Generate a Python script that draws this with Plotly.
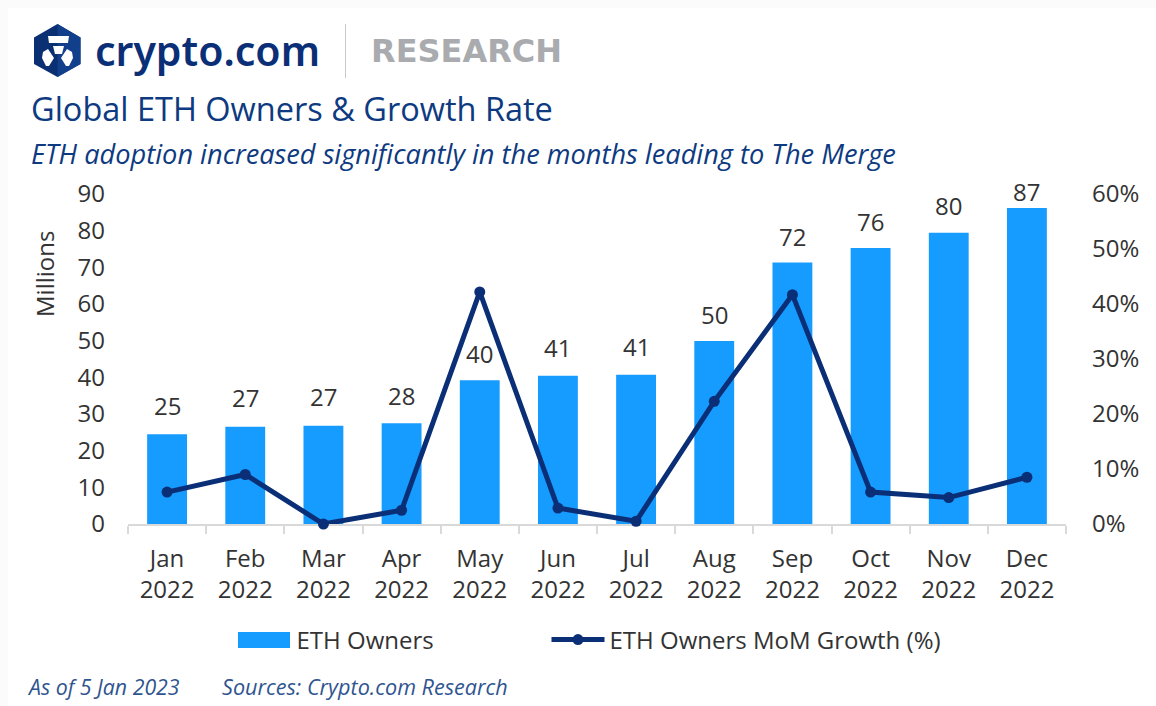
import plotly.graph_objects as go

W, H = 1156, 706
months = ["Jan", "Feb", "Mar", "Apr", "May", "Jun", "Jul", "Aug", "Sep", "Oct", "Nov", "Dec"]
categories = [m + "<br>2022" for m in months]
owners = [24.5, 26.5, 26.8, 27.5, 39.2, 40.4, 40.7, 49.9, 71.3, 75.3, 79.4, 86.2]
labels = ["25", "27", "27", "28", "40", "41", "41", "50", "72", "76", "80", "87"]
growth = [5.8, 9.0, 0.0, 2.5, 42.2, 2.9, 0.5, 22.3, 41.7, 5.8, 4.8, 8.5]
label_shift = [29, 29, 29, 28, 27, 28, 28, 27, 26, 26, 27, 16]

NAVY = "#0b2f76"
BLUE = "#169bff"
TXT = "#333333"
FONT = "Open Sans"

fig = go.Figure()
fig.add_trace(go.Bar(x=categories, y=owners, name="ETH Owners", marker=dict(color=BLUE, line=dict(width=0)),
                     yaxis="y", cliponaxis=False, legend="legend"))
fig.add_trace(go.Scatter(x=categories, y=growth, name="ETH Owners MoM Growth (%)", mode="lines+markers",
                         line=dict(color=NAVY, width=5), marker=dict(color=NAVY, size=11),
                         yaxis="y2", cliponaxis=False, legend="legend2"))

annotations = []
for c, v, t, s in zip(categories, owners, labels, label_shift):
    annotations.append(dict(x=c, y=v, xref="x", yref="y", text=t, showarrow=False, yshift=s,
                            font=dict(family=FONT, size=24, color=TXT)))


def note(x, y, text, size, color, italic=False, family=FONT, weight=None):
    style = dict(family=family, size=size, color=color)
    if italic:
        style["style"] = "italic"
    if weight:
        style["weight"] = weight
    annotations.append(dict(x=x / W, y=1 - y / H, xref="paper", yref="paper", text=text, showarrow=False,
                            xanchor="left", yanchor="middle", font=style))


note(93, 50, "crypto.com", 41, NAVY, family="Noto Sans", weight=600)
note(369, 51, "RESEARCH", 32, "#a9abae", family="DejaVu Sans", weight=700)
note(29, 108, "Global ETH Owners &amp; Growth Rate", 32.5, "#0d3a80")
note(29, 153, "ETH adoption increased significantly in the months leading to The Merge", 27.2, "#0d3a80", italic=True)
note(25, 686, "As of 5 Jan 2023", 21.3, "#2f5590", italic=True)
note(220, 686, "Sources: Crypto.com Research", 21.6, "#2f5590", italic=True)
annotations.append(dict(x=44 / W, y=1 - 274 / H, xref="paper", yref="paper", text="Millions", showarrow=False,
                        textangle=-90, xanchor="center", yanchor="middle", font=dict(family=FONT, size=24, color=TXT)))


def path(points):
    return "M" + " L".join(f"{x / W:.5f},{1 - y / H:.5f}" for x, y in points) + " Z"


def logo_part(points, color):
    return dict(type="path", xref="paper", yref="paper", path=path(points), fillcolor=color, line=dict(width=0))


def paper_rect(x0, y0, x1, y1, color):
    return dict(type="rect", xref="paper", yref="paper", x0=x0 / W, x1=x1 / W, y0=1 - y0 / H, y1=1 - y1 / H,
                fillcolor=color, line=dict(width=0), layer="below")


shapes = [
    paper_rect(8, 8, W, H, "#ffffff"),
    paper_rect(238, 632, 290, 648, BLUE),
    dict(type="line", xref="paper", yref="paper", x0=345.5 / W, x1=345.5 / W, y0=1 - 24 / H, y1=1 - 78 / H,
         line=dict(color="#c9c9c9", width=1)),
    logo_part([(57.5, 24), (80.5, 37.5), (80.5, 64), (57.5, 77), (34, 64), (34, 37.5)], "#0b2f73"),
    logo_part([(57.5, 24), (80.5, 37.5), (80.5, 64), (57.5, 77)], "#123f8c"),
    logo_part([(48, 36), (69, 36), (68, 43), (49, 43)], "#ffffff"),
    logo_part([(53, 46), (64, 46), (62, 54), (55, 54)], "#ffffff"),
    logo_part([(43, 52), (48, 49), (54, 58), (49, 66), (46, 66), (42, 58)], "#ffffff"),
    logo_part([(72, 52), (67, 49), (61, 58), (66, 66), (69, 66), (73, 58)], "#ffffff"),
]

legend_common = dict(orientation="h", y=1 - 640 / H, xanchor="left", yanchor="middle", itemwidth=53,
                     font=dict(family=FONT, size=24, color=TXT), bgcolor="rgba(0,0,0,0)")

fig.update_layout(
    width=W, height=H, margin=dict(l=0, r=0, t=0, b=0, autoexpand=False), autosize=False,
    paper_bgcolor="#fbfbfb", plot_bgcolor="rgba(0,0,0,0)",
    font=dict(family=FONT, size=24, color=TXT),
    bargap=0.49,
    xaxis=dict(domain=[128 / W, 1066 / W], type="category", range=[-0.5, 11.5], tickson="boundaries", ticks="outside",
               ticklen=8, tickcolor="#d9d9d9", tickwidth=2, showline=True, linecolor="#d9d9d9", linewidth=2,
               showgrid=False, tickfont=dict(family=FONT, size=24, color=TXT), anchor="y", automargin=False,
               ticklabelstandoff=12, layer="below traces"),
    yaxis=dict(domain=[1 - 524 / H, 1 - 194 / H], range=[0, 90], dtick=10, showgrid=False, zeroline=False,
               ticks="", tickfont=dict(family=FONT, size=24, color=TXT), ticklabelstandoff=22, automargin=False),
    yaxis2=dict(domain=[1 - 524 / H, 1 - 194 / H], range=[0, 60], dtick=10, ticksuffix="%", overlaying="y", side="right",
                showgrid=False, zeroline=False, ticks="", tickfont=dict(family=FONT, size=24, color=TXT),
                ticklabelstandoff=25, automargin=False),
    legend=dict(x=233.5 / W, **legend_common),
    legend2=dict(x=546.5 / W, **legend_common),
    annotations=annotations, shapes=shapes, showlegend=True,
)
fig.write_html("out.html", config=dict(displayModeBar=False), post_script="document.body.style.margin='0';")
